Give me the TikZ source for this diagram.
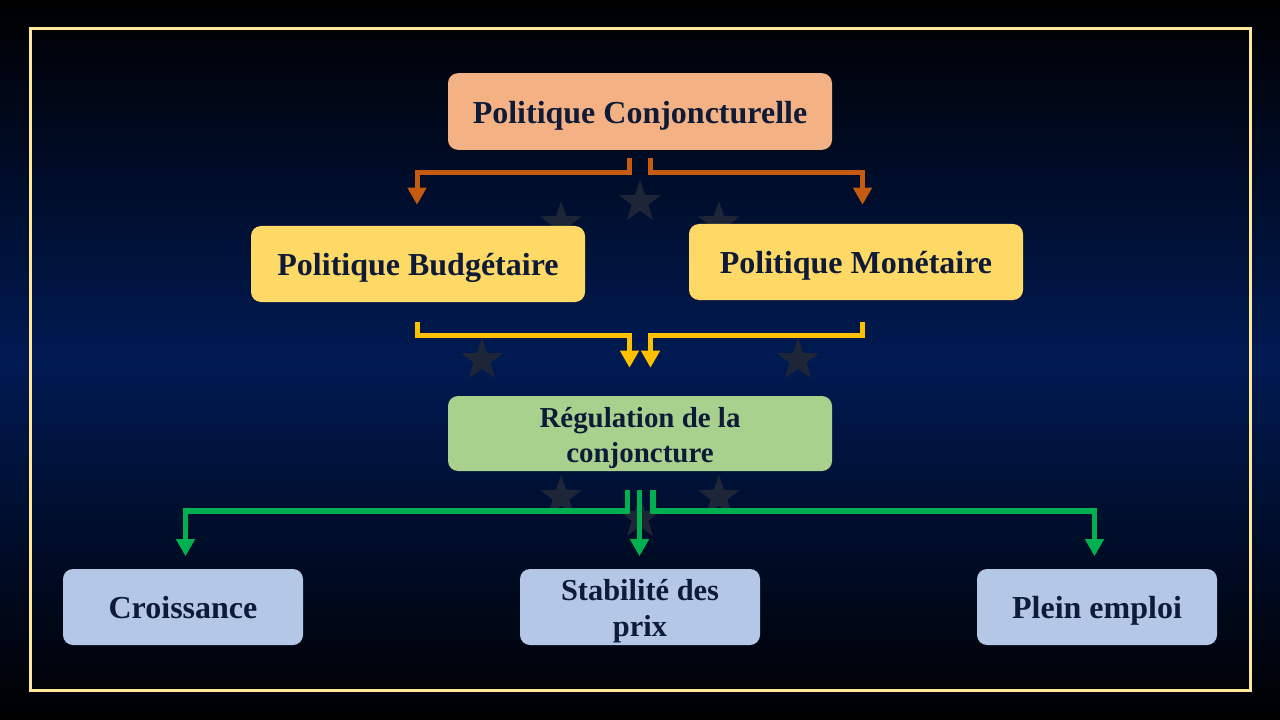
\documentclass[tikz,border=0pt]{standalone}
\usepackage{fontspec}
\setmainfont{Liberation Serif}
\usetikzlibrary{arrows.meta,calc,shapes.geometric}
\definecolor{bgmid}{RGB}{0,26,82}
\definecolor{starc}{RGB}{30,37,54}
\definecolor{framec}{HTML}{FFE699}
\definecolor{peach}{HTML}{F4B183}
\definecolor{yellowbox}{HTML}{FFD966}
\definecolor{greenbox}{HTML}{A9D18E}
\definecolor{bluebox}{HTML}{B4C7E7}
\definecolor{orangeline}{HTML}{C55A11}
\definecolor{yellowline}{HTML}{FFC000}
\definecolor{greenline}{HTML}{00B050}
\definecolor{textc}{HTML}{0E1B38}
\tikzset{
  boxbase/.style={rounded corners=7.5pt, draw=none, text=textc, align=center, inner sep=0pt,
    font=\fontsize{24}{27}\selectfont\bfseries, text height=17.75pt, text depth=0pt},
  wide/.style={boxbase, minimum width=288pt, minimum height=57.5pt},
  mid/.style={boxbase, minimum width=250.5pt, minimum height=57pt},
  small/.style={boxbase, minimum width=180pt, minimum height=57pt},
  twoline/.style={text height=, text depth=},
  conn/.style={line width=3.75pt, line join=miter},
  oconn/.style={conn, draw=orangeline, -{Triangle[width=13.5pt,length=12.75pt,fill=orangeline]}},
  yconn/.style={conn, draw=yellowline, -{Triangle[width=13.5pt,length=12.75pt,fill=yellowline]}},
  gconn/.style={conn, line width=4.1pt, draw=greenline, -{Triangle[width=13.5pt,length=12.75pt,fill=greenline]}},
  starbg/.style={star, star points=5, star point ratio=2.5, minimum size=33pt, inner sep=0pt, fill=starc, draw=none}
}
\begin{document}
\begin{tikzpicture}[x=0.75pt, y=-0.75pt]
\useasboundingbox (0,0) rectangle (1280,720);
\shade[top color=black, bottom color=black, middle color=bgmid] (0,0) rectangle (1280,720);
\foreach \k in {0,...,11} {
  \pgfmathsetmacro{\ang}{90-30*\k}
  \node[starbg] (star\k) at ({640+158*cos(\ang)}, {360-158*sin(\ang)}) {};
}
\draw[framec, line width=2.25pt] (30,29) rectangle (1250,690);

\node[wide, fill=peach] (top) at (640,111.5) {Politique Conjoncturelle};
\node[mid, fill=yellowbox] (bud) at (418,264) {Politique Budgétaire};
\node[mid, fill=yellowbox] (mon) at (856,262) {Politique Monétaire};
\node[wide, fill=greenbox, minimum height=56.25pt, twoline] (reg) at (640,433.5)
  {\raisebox{-9.75pt}[0pt][0pt]{\parbox[c]{280pt}{\centering\fontsize{21.7}{26.25}\selectfont\bfseries Régulation de la\\conjoncture}}};
\node[small, fill=bluebox] (cro) at (183,607) {Croissance};
\node[small, fill=bluebox, twoline] (sta) at (640,607)
  {\raisebox{-9.25pt}[0pt][0pt]{\parbox[c]{175pt}{\centering\fontsize{22.8}{27.5}\selectfont\bfseries Stabilité des\\prix}}};
\node[small, fill=bluebox] (ple) at (1097,607) {Plein emploi};

\draw[oconn] ($(top.south)+(-10.5,8)$) -- ++(0,14.5) -| ($(bud.north)+(-1,-21)$);
\draw[oconn] ($(top.south)+(10.5,8)$) -- ++(0,14.5) -| ($(mon.north)+(6.5,-19)$);

\draw[yconn] ($(bud.south)+(-1,19.5)$) -- ++(0,14) -| ($(reg.north)+(-10.5,-28)$);
\draw[yconn] ($(mon.south)+(6.5,21.5)$) -- ++(0,14) -| ($(reg.north)+(10.5,-28)$);

\draw[gconn] ($(reg.south)+(-12.5,19)$) -- ++(0,20.5) -| ($(cro.north)+(2.5,-12.5)$);
\draw[gconn] ($(reg.south)+(-0.5,19)$) -- ($(sta.north)+(-0.5,-12.5)$);
\draw[gconn] ($(reg.south)+(13,19)$) -- ++(0,20.5) -| ($(ple.north)+(-2.5,-12.5)$);
\end{tikzpicture}
\end{document}
